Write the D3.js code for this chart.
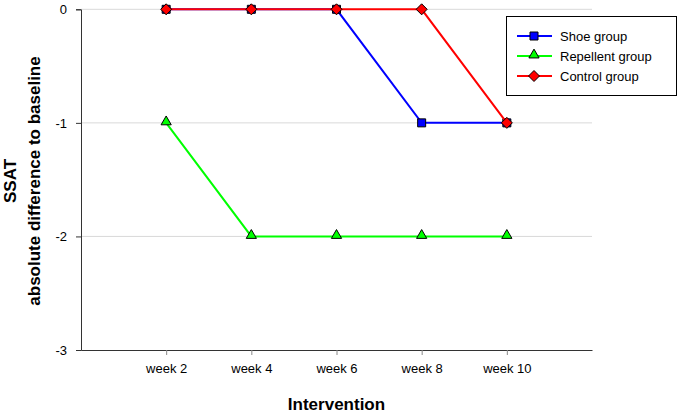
<!DOCTYPE html>
<html><head><meta charset="utf-8">
<script src="https://cdn.jsdelivr.net/npm/d3@7"></script>
<style>body{margin:0;background:#fff}svg{display:block;font-family:Arial,"Liberation Sans",sans-serif}</style>
</head><body><svg id="c" width="681" height="414"></svg>
<script>
const categories = ["week 2","week 4","week 6","week 8","week 10"];
const shoeGroup = [0,0,0,-1,-1];
const repellentGroup = [-1,-2,-2,-2,-2];
const controlGroup = [0,0,0,0,-1];
const yTicks = [0,-1,-2,-3];
const seriesNames = ["Shoe group","Repellent group","Control group"];

const series = [
  {name:seriesNames[1], values:repellentGroup, color:"#00ff00", marker:"triangle"},
  {name:seriesNames[0], values:shoeGroup, color:"#0000ff", marker:"square"},
  {name:seriesNames[2], values:controlGroup, color:"#ff0000", marker:"diamond"}
];

const svg = d3.select("#c");
const L=81, R=592, T=9.3, B=350;
const x = d3.scalePoint().domain(categories).range([L,R]).padding(1);
const y = d3.scaleLinear().domain([-3,0]).range([B,T]);

// gridlines
svg.append("g").selectAll("line").data(yTicks.filter(d=>d!==-3)).join("line")
  .attr("x1",L).attr("x2",R).attr("y1",d=>y(d)).attr("y2",d=>y(d))
  .attr("stroke","#d9d9d9").attr("stroke-width",1);

// y axis
const ya = svg.append("g").attr("transform",`translate(${L},0)`)
  .call(d3.axisLeft(y).tickValues(yTicks).tickFormat(d=>String(d)).tickSize(5).tickPadding(9));
ya.select(".domain").attr("stroke","#333");
ya.selectAll(".tick line").attr("stroke","#333");
ya.selectAll("text").attr("font-size",13).attr("fill","#000").attr("font-family","Arial, 'Liberation Sans', sans-serif");

// x axis
const xa = svg.append("g").attr("transform",`translate(0,${B})`)
  .call(d3.axisBottom(x).tickSize(5).tickPadding(9).tickSizeOuter(0));
xa.select(".domain").attr("stroke","#333");
xa.selectAll(".tick line").attr("stroke","#888");
xa.selectAll("text").attr("font-size",13).attr("fill","#000").attr("font-family","Arial, 'Liberation Sans', sans-serif");

const diamondPath = "M0,-5.5L5.5,0L0,5.5L-5.5,0Z";
const sym = {
  triangle: d3.symbol().type(d3.symbolTriangle).size(45)(),
  square: "M-4,-4H4V4H-4Z",
  diamond: diamondPath
};
const line = d3.line().x((d,i)=>x(categories[i])).y(d=>y(d));

series.forEach(s=>{
  svg.append("path").attr("d",line(s.values)).attr("fill","none")
    .attr("stroke",s.color).attr("stroke-width",2);
  svg.append("g").selectAll("path").data(s.values).join("path")
    .attr("d",sym[s.marker])
    .attr("transform",(d,i)=>`translate(${x(categories[i])},${y(d)+(s.marker==="triangle"?-1:0)})`)
    .attr("fill",s.color).attr("stroke","#000").attr("stroke-width",1);
});

// legend
const lg = svg.append("g");
lg.append("rect").attr("x",506.5).attr("y",16.5).attr("width",170).attr("height",79)
  .attr("fill","#fff").attr("stroke","#000").attr("stroke-width",1);
const legOrder = [series[1],series[0],series[2]];
legOrder.forEach((s,i)=>{
  const yy = 36 + i*20;
  lg.append("line").attr("x1",517).attr("x2",552).attr("y1",yy).attr("y2",yy)
    .attr("stroke",s.color).attr("stroke-width",2);
  lg.append("path").attr("d",sym[s.marker]).attr("transform",`translate(534,${yy+(s.marker==="triangle"?-1:0)})`)
    .attr("fill",s.color).attr("stroke","#000").attr("stroke-width",1);
  lg.append("text").attr("x",560).attr("y",yy).attr("dy","0.35em").attr("font-size",13).text(s.name);
});

// axis titles
svg.append("text").attr("x",336.5).attr("y",410).attr("text-anchor","middle")
  .attr("font-size",17).attr("font-weight","bold").text("Intervention");
svg.append("text").attr("transform","translate(16,181) rotate(-90)").attr("text-anchor","middle")
  .attr("font-size",17).attr("font-weight","bold").text("SSAT");
svg.append("text").attr("transform","translate(40,181) rotate(-90)").attr("text-anchor","middle")
  .attr("font-size",17).attr("font-weight","bold").text("absolute difference to baseline");
</script></body></html>
